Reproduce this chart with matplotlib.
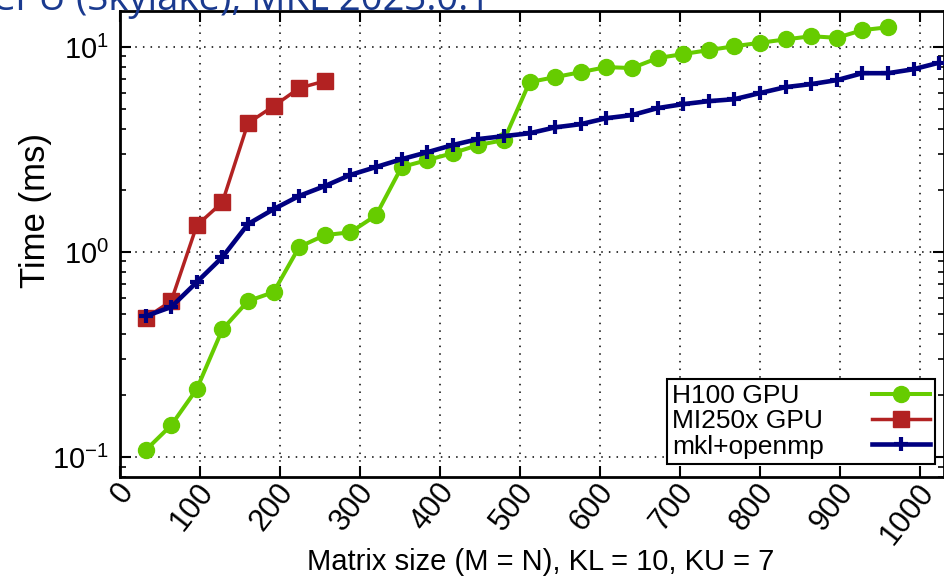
import matplotlib
matplotlib.use('Agg')
import matplotlib.pyplot as plt
from matplotlib.ticker import LogLocator, NullFormatter
from matplotlib.transforms import ScaledTranslation

# matrix sizes (multiples of 32)
h100_n = [32 * k for k in range(1, 31)]
mi250_n = [32 * k for k in range(1, 9)]
mkl_n = [32 * k for k in range(1, 33)]

# times in ms
h100_t = [0.108, 0.143, 0.215, 0.42, 0.577, 0.638, 1.06, 1.21, 1.25, 1.51,
          2.6, 2.81, 3.04, 3.33, 3.52, 6.75, 7.14, 7.55, 7.99, 7.9,
          8.84, 9.25, 9.67, 10.1, 10.5, 10.9, 11.3, 11.1, 12.1, 12.5]
mi250_t = [0.477, 0.577, 1.35, 1.75, 4.26, 5.15, 6.31, 6.83]
mkl_t = [0.487, 0.54, 0.714, 0.945, 1.37, 1.62, 1.88, 2.1, 2.38, 2.6,
         2.84, 3.07, 3.33, 3.56, 3.68, 3.8, 4.06, 4.21, 4.5, 4.66,
         5.04, 5.27, 5.45, 5.57, 5.97, 6.38, 6.6, 6.9, 7.46, 7.46,
         7.8, 8.4]

x_ticks = list(range(0, 1001, 100))

plt.rcParams['font.family'] = ['Liberation Sans', 'DejaVu Sans']
plt.rcParams['mathtext.fontset'] = 'custom'
plt.rcParams['mathtext.rm'] = 'Liberation Sans'
plt.rcParams['mathtext.it'] = 'Liberation Sans'

fig = plt.figure(figsize=(9.45, 5.77), dpi=100)
ax = fig.add_axes([120 / 945, 1 - 477 / 577, 824 / 945, 466 / 577])

ax.plot(h100_n, h100_t, color='#66cc00', lw=2.9, marker='o', ms=11.5,
        mec='#66cc00', label='H100 GPU', zorder=3)
ax.plot(mi250_n, mi250_t, color='#b22222', lw=2.5, marker='s', ms=11,
        mec='#b22222', label='MI250x GPU', zorder=3)
ax.plot(mkl_n, mkl_t, color='#000080', lw=3.3, marker='+', ms=10, mew=3,
        label='mkl+openmp', zorder=4)

ax.set_yscale('log')
ax.set_xlim(0, 1030)
ax.set_ylim(0.08, 15)

ax.set_xticks(x_ticks)
ax.set_xticklabels([str(v) for v in x_ticks], rotation=52, ha='right',
                   va='center', rotation_mode='anchor', fontsize=22)
ax.yaxis.set_major_locator(LogLocator(base=10))
ax.yaxis.set_minor_locator(LogLocator(base=10, subs=range(2, 10)))
ax.yaxis.set_minor_formatter(NullFormatter())
ax.tick_params(axis='y', labelsize=21)
ax.tick_params(which='major', direction='in', length=8, width=1.5,
               top=True, right=True, pad=8)
ax.tick_params(which='minor', direction='in', length=4.5, width=1.2,
               top=True, right=True)
ax.tick_params(axis='x', pad=7)

for lab in ax.get_xticklabels():
    lab.set_transform(lab.get_transform() +
                      ScaledTranslation(0.08, 0, fig.dpi_scale_trans))

for s in ax.spines.values():
    s.set_linewidth(2)

ax.grid(True, which='major', color='black', lw=1.1, ls=(0, (1, 4)))

ax.set_xlabel('Matrix size (M = N), KL = 10, KU = 7', fontsize=21)
ax.set_ylabel('Time (ms)', fontsize=25)
ax.xaxis.set_label_coords(0.511, -0.152)
ax.yaxis.set_label_coords(-0.083, 0.571)

leg = ax.legend(loc='lower right', bbox_to_anchor=(935 / 945, 1 - 464 / 577),
                bbox_transform=fig.transFigure, markerfirst=False,
                fontsize=19, frameon=True, fancybox=False, framealpha=1,
                edgecolor='black', handlelength=2.2, labelspacing=0.05,
                borderpad=0.2, handletextpad=1.8, borderaxespad=0)
leg.get_frame().set_linewidth(1.5)

# left-align the legend texts while keeping the samples on the right
fig.canvas.draw()
rend = fig.canvas.get_renderer()
widths = [t.get_window_extent(rend).width for t in leg.texts]
maxw = max(widths)
for col in leg._legend_handle_box.get_children():
    for item, w in zip(col.get_children(), widths):
        item.sep = item.sep + (maxw - w) * 72 / fig.dpi

fig.text(490 / 945, 1 - 10 / 577, 'CPU (Skylake), MKL 2023.0.1', ha='right',
         va='baseline', color='#1a3a8f', fontsize=27.5, family='Open Sans')

fig.savefig('out.png', dpi=100)
